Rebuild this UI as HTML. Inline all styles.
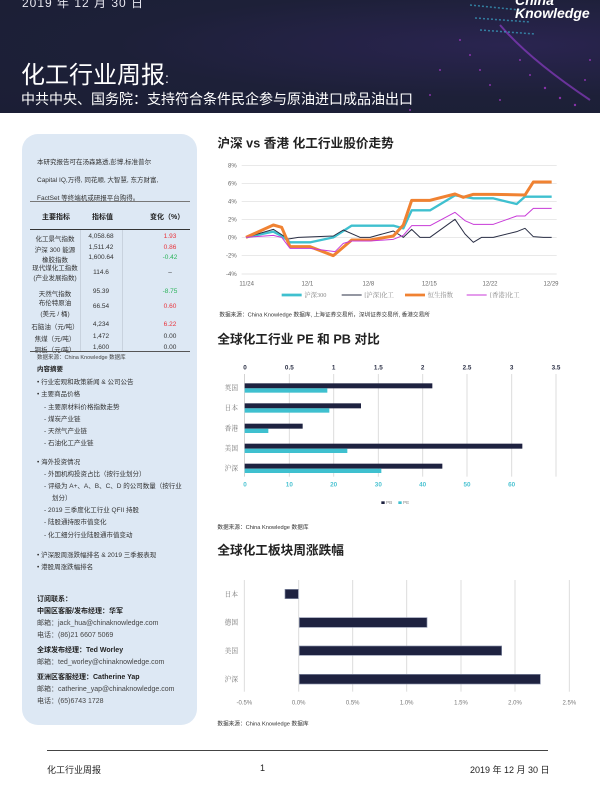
<!DOCTYPE html>
<html><head><meta charset="utf-8"><style>
*{margin:0;padding:0;box-sizing:border-box}
body{width:600px;height:800px;background:#fff;position:relative;overflow:hidden;font-family:"Liberation Sans","Noto Sans CJK SC",sans-serif;color:#222}
.a{position:absolute;white-space:nowrap}
.hdr{position:absolute;left:0;top:0;width:600px;height:113px;background:radial-gradient(ellipse at 85% 40%,#2a2450 0%,#1d2038 55%,#1b1e35 100%)}
.side{position:absolute;left:22px;top:134px;width:175px;height:591px;background:#dde8f4;border-radius:16px}
.s7{font-size:6.5px;color:#333}
.t7{font-size:6.5px;color:#333;text-align:center}
.red{color:#e8333b}.grn{color:#2bb35a}
</style></head><body>
<div class="hdr">
<svg width="600" height="113" style="position:absolute;left:0;top:0">
<g fill="#b43ad8" opacity="0.7">
<circle cx="460" cy="40" r="1"/><circle cx="470" cy="55" r="1"/><circle cx="480" cy="70" r="1"/><circle cx="490" cy="85" r="1"/><circle cx="500" cy="100" r="1"/><circle cx="520" cy="60" r="1"/><circle cx="530" cy="75" r="1"/><circle cx="545" cy="88" r="1.2"/><circle cx="560" cy="98" r="1.2"/><circle cx="575" cy="105" r="1.2"/><circle cx="585" cy="80" r="1"/><circle cx="590" cy="60" r="1"/><circle cx="440" cy="70" r="1"/><circle cx="430" cy="95" r="1"/><circle cx="410" cy="110" r="1"/>
</g>
<path d="M500 25 Q530 60 590 100" stroke="#9b3fd8" stroke-width="2" fill="none" opacity="0.6"/>
<path d="M470 5 L520 10 M475 18 L530 22 M480 30 L535 34" stroke="#3aa6c8" stroke-width="1.5" stroke-dasharray="2 2" opacity="0.7"/>
</svg>
<div class="a" style="left:22px;top:-6px;font-size:12px;color:#e8e8f0;letter-spacing:1px">2019 年 12 月 30 日</div>
<div class="a" style="left:515px;top:-6px;font-size:14px;font-weight:bold;font-style:italic;color:#fff;line-height:13px">China<br>Knowledge</div>
<div class="a" style="left:21px;top:55px;font-size:24px;color:#fff">化工行业周报<span style="font-size:14px">:</span></div>
<div class="a" style="left:21px;top:89px;font-size:14px;color:#fff">中共中央、国务院：支持符合条件民企参与原油进口成品油出口</div>
</div>

<div class="side"></div>
<div class="a s7" style="left:37px;top:156px">本研究报告可在汤森路透,彭博,标准普尔</div>
<div class="a s7" style="left:37px;top:174px">Capital IQ,万得, 同花顺, 大智慧, 东方财富,</div>
<div class="a s7" style="left:37px;top:192px">FactSet 等终端机或研报平台购得。</div>
<div class="a" style="left:30px;top:201px;width:160px;border-top:1.5px solid #777"></div>
<div class="a" style="left:42px;top:212px;font-size:7px;font-weight:bold">主要指标</div>
<div class="a" style="left:92px;top:212px;font-size:7px;font-weight:bold">指标值</div>
<div class="a" style="left:150px;top:212px;font-size:7px;font-weight:bold">变化（%）</div>
<div class="a" style="left:30px;top:229px;width:160px;border-top:1.5px solid #333"></div>
<div class="a" style="left:80px;top:230px;height:121px;border-left:1px solid #c8d2de"></div>
<div class="a" style="left:122px;top:230px;height:121px;border-left:1px solid #c8d2de"></div>
<div class="a t7" style="left:30px;top:233px;width:50px">化工景气指数</div><div class="a t7" style="left:80px;top:233px;width:42px">4,058.68</div><div class="a t7 red" style="left:150px;top:233px;width:40px">1.93</div>
<div class="a t7" style="left:30px;top:244px;width:50px">沪深 300 能源</div><div class="a t7" style="left:80px;top:244px;width:42px">1,511.42</div><div class="a t7 red" style="left:150px;top:244px;width:40px">0.86</div>
<div class="a t7" style="left:30px;top:254px;width:50px">橡胶指数</div><div class="a t7" style="left:80px;top:254px;width:42px">1,600.64</div><div class="a t7 grn" style="left:150px;top:254px;width:40px">-0.42</div>
<div class="a t7" style="left:30px;top:264px;width:50px;line-height:10px;white-space:normal">现代煤化工指数<br>(产业发展指数)</div><div class="a t7" style="left:80px;top:269px;width:42px">114.6</div><div class="a t7" style="left:150px;top:269px;width:40px">–</div>
<div class="a t7" style="left:30px;top:288px;width:50px">天然气指数</div><div class="a t7" style="left:80px;top:288px;width:42px">95.39</div><div class="a t7 grn" style="left:150px;top:288px;width:40px">-8.75</div>
<div class="a t7" style="left:30px;top:298px;width:50px;line-height:11px;white-space:normal">布伦特原油<br>(美元 / 桶)</div><div class="a t7" style="left:80px;top:303px;width:42px">66.54</div><div class="a t7 red" style="left:150px;top:303px;width:40px">0.60</div>
<div class="a t7" style="left:30px;top:321px;width:50px">石脑油（元/吨）</div><div class="a t7" style="left:80px;top:321px;width:42px">4,234</div><div class="a t7 red" style="left:150px;top:321px;width:40px">6.22</div>
<div class="a t7" style="left:30px;top:333px;width:50px">焦煤（元/吨）</div><div class="a t7" style="left:80px;top:333px;width:42px">1,472</div><div class="a t7" style="left:150px;top:333px;width:40px">0.00</div>
<div class="a t7" style="left:30px;top:344px;width:50px">铜板（元/吨）</div><div class="a t7" style="left:80px;top:344px;width:42px">1,600</div><div class="a t7" style="left:150px;top:344px;width:40px">0.00</div>
<div class="a" style="left:30px;top:351px;width:160px;border-top:1.5px solid #555"></div>
<div class="a" style="left:37px;top:353px;font-size:5.5px;color:#444">数据来源：China Knowledge 数据库</div>
<div class="a" style="left:37px;top:363px;font-size:6.5px;font-weight:bold">内容摘要</div>
<div class="a s7" style="left:37px;top:376px">• 行业宏观和政策新闻 &amp; 公司公告</div>
<div class="a s7" style="left:37px;top:388px">• 主要商品价格</div>
<div class="a s7" style="left:44px;top:401px">- 主要原材料价格指数走势</div>
<div class="a s7" style="left:44px;top:413px">- 煤炭产业链</div>
<div class="a s7" style="left:44px;top:425px">- 天然气产业链</div>
<div class="a s7" style="left:44px;top:437px">- 石油化工产业链</div>
<div class="a s7" style="left:37px;top:456px">• 海外投资情况</div>
<div class="a s7" style="left:44px;top:468px">- 外国机构投资占比（按行业划分）</div>
<div class="a s7" style="left:44px;top:480px">- 评级为 A+、A、B、C、D 的公司数量（按行业</div>
<div class="a s7" style="left:52px;top:492px">划分）</div>
<div class="a s7" style="left:44px;top:504px">- 2019 三季度化工行业 QFII 持股</div>
<div class="a s7" style="left:44px;top:516px">- 陆股通持股市值变化</div>
<div class="a s7" style="left:44px;top:529px">- 化工细分行业陆股通市值变动</div>
<div class="a s7" style="left:37px;top:549px">• 沪深股周涨跌幅排名 &amp; 2019 三季报表现</div>
<div class="a s7" style="left:37px;top:561px">• 港股周涨跌幅排名</div>
<div class="a" style="left:37px;top:594px;font-size:7px;font-weight:bold">订阅联系：</div>
<div class="a" style="left:37px;top:606px;font-size:7px;font-weight:bold">中国区客服/发布经理：华军</div>
<div class="a" style="left:37px;top:618px;font-size:7px;color:#444">邮箱：jack_hua@chinaknowledge.com</div>
<div class="a" style="left:37px;top:630px;font-size:7px;color:#444">电话：(86)21 6607 5069</div>
<div class="a" style="left:37px;top:645px;font-size:7px;font-weight:bold">全球发布经理：Ted Worley</div>
<div class="a" style="left:37px;top:657px;font-size:7px;color:#444">邮箱：ted_worley@chinaknowledge.com</div>
<div class="a" style="left:37px;top:672px;font-size:7px;font-weight:bold">亚洲区客服经理：Catherine Yap</div>
<div class="a" style="left:37px;top:684px;font-size:7px;color:#444">邮箱：catherine_yap@chinaknowledge.com</div>
<div class="a" style="left:37px;top:696px;font-size:7px;color:#444">电话：(65)6743 1728</div>

<!-- Chart 1 -->
<svg class="a" style="left:210px;top:130px" width="370" height="200" viewBox="0 0 1110 600" font-family="Liberation Sans, Noto Sans CJK SC, sans-serif">
<text x="22" y="52" font-size="38" font-weight="bold" fill="#222">沪深 vs 香港 化工行业股价走势</text>
<g stroke="#dcdcdc" stroke-width="2">
<line x1="95" y1="107" x2="1040" y2="107"/><line x1="95" y1="161" x2="1040" y2="161"/><line x1="95" y1="215" x2="1040" y2="215"/><line x1="95" y1="269" x2="1040" y2="269"/><line x1="95" y1="323" x2="1040" y2="323"/><line x1="95" y1="377" x2="1040" y2="377"/><line x1="95" y1="432" x2="1040" y2="432"/>
</g>
<g font-size="18" fill="#666" text-anchor="end">
<text x="80" y="113">8%</text><text x="80" y="167">6%</text><text x="80" y="221">4%</text><text x="80" y="275">2%</text><text x="80" y="329">0%</text><text x="80" y="383">-2%</text><text x="80" y="438">-4%</text>
</g>
<g font-size="18" fill="#666" text-anchor="middle">
<text x="110" y="466">11/24</text><text x="292" y="466">12/1</text><text x="475" y="466">12/8</text><text x="658" y="466">12/15</text><text x="840" y="466">12/22</text><text x="1023" y="466">12/29</text>
</g>
<g fill="none" stroke-linejoin="round">
<polyline stroke="#3fc0cf" stroke-width="7" points="108,322 190,305 215,318 240,337 300,337 370,322 425,287 550,287 580,295 605,241 660,241 735,196 790,205 850,205 920,222 945,200 1025,200"/>
<polyline stroke="#2a2f45" stroke-width="3" points="108,322 190,298 235,327 265,322 370,318 400,300 450,322 480,322 550,303 580,322 605,298 630,322 660,322 735,268 765,312 790,337 815,322 850,322 920,305 945,295 970,320 1000,322 1025,322"/>
<polyline stroke="#f08232" stroke-width="9" points="108,322 190,285 215,292 240,350 300,350 370,377 390,360 425,330 480,330 550,318 580,285 605,211 660,211 735,192 760,202 790,193 850,193 945,195 970,156 1025,156"/>
<polyline stroke="#c83ad8" stroke-width="3" points="108,322 190,316 215,322 240,355 300,355 375,365 400,340 425,333 480,333 550,328 580,316 605,287 660,287 735,247 765,272 790,283 850,283 920,258 945,258 970,235 1025,235"/>
</g>
<line x1="215" y1="495" x2="275" y2="495" stroke="#3fc0cf" stroke-width="8"/>
<line x1="395" y1="495" x2="455" y2="495" stroke="#2a2f45" stroke-width="3"/>
<line x1="585" y1="495" x2="645" y2="495" stroke="#f08232" stroke-width="8"/>
<line x1="770" y1="495" x2="830" y2="495" stroke="#c83ad8" stroke-width="3"/>
<g font-size="19" fill="#888" font-family="Liberation Serif, Noto Serif CJK SC, serif">
<text x="283" y="501">沪深300</text><text x="463" y="501">[沪深]化工</text><text x="653" y="501">恒生指数</text><text x="840" y="501">[香港]化工</text>
</g>
<text x="28" y="559" font-size="17" fill="#333">数据来源：China Knowledge 数据库, 上海证券交易所，深圳证券交易所, 香港交易所</text>
</svg>

<!-- Chart 2 -->
<svg class="a" style="left:210px;top:330px" width="370" height="200" viewBox="0 0 1110 600" font-family="Liberation Sans, Noto Sans CJK SC, sans-serif">
<text x="22" y="40" font-size="38" font-weight="bold" fill="#222">全球化工行业 PE 和 PB 对比</text>
<g stroke="#dcdcdc" stroke-width="3">
<line x1="238" y1="132" x2="238" y2="440"/><line x1="371" y1="132" x2="371" y2="440"/><line x1="505" y1="132" x2="505" y2="440"/><line x1="638" y1="132" x2="638" y2="440"/><line x1="771" y1="132" x2="771" y2="440"/><line x1="905" y1="132" x2="905" y2="440"/><line x1="1038" y1="132" x2="1038" y2="440"/>
</g>
<line x1="104" y1="132" x2="104" y2="440" stroke="#bbb" stroke-width="2"/>
<g font-size="19" fill="#2a2f45" font-weight="bold" text-anchor="middle">
<text x="105" y="119">0</text><text x="238" y="119">0.5</text><text x="371" y="119">1</text><text x="505" y="119">1.5</text><text x="638" y="119">2</text><text x="771" y="119">2.5</text><text x="905" y="119">3</text><text x="1038" y="119">3.5</text>
</g>
<g font-size="19" fill="#4cc3d2" font-weight="bold" text-anchor="middle">
<text x="105" y="470">0</text><text x="238" y="470">10</text><text x="371" y="470">20</text><text x="505" y="470">30</text><text x="638" y="470">40</text><text x="771" y="470">50</text><text x="905" y="470">60</text>
</g>
<g fill="#1e2240">
<rect x="104" y="160" width="563" height="15"/><rect x="104" y="220" width="349" height="15"/><rect x="104" y="281" width="174" height="15"/><rect x="104" y="341" width="833" height="15"/><rect x="104" y="401" width="593" height="15"/>
</g>
<g fill="#3fc0cf">
<rect x="104" y="175" width="248" height="13"/><rect x="104" y="235" width="254" height="13"/><rect x="104" y="296" width="71" height="13"/><rect x="104" y="356" width="308" height="13"/><rect x="104" y="416" width="410" height="13"/>
</g>
<g font-size="20" fill="#777" text-anchor="middle" font-family="Liberation Serif, Noto Serif CJK SC, serif">
<text x="64" y="180">英国</text><text x="64" y="240">日本</text><text x="64" y="301">香港</text><text x="64" y="361">美国</text><text x="64" y="421">沪深</text>
</g>
<rect x="514" y="514" width="10" height="8" fill="#1e2240"/><text x="528" y="522" font-size="14" fill="#888">PB</text>
<rect x="565" y="514" width="10" height="8" fill="#3fc0cf"/><text x="579" y="522" font-size="14" fill="#888">PE</text>
<text x="22" y="597" font-size="17" fill="#333">数据来源：China Knowledge 数据库</text>
</svg>

<!-- Chart 3 -->
<svg class="a" style="left:210px;top:535px" width="370" height="200" viewBox="0 0 1110 600" font-family="Liberation Sans, Noto Sans CJK SC, sans-serif">
<text x="22" y="58" font-size="38" font-weight="bold" fill="#222">全球化工板块周涨跌幅</text>
<g stroke="#dcdcdc" stroke-width="3">
<line x1="103" y1="135" x2="103" y2="470"/><line x1="266" y1="135" x2="266" y2="470"/><line x1="428" y1="135" x2="428" y2="470"/><line x1="590" y1="135" x2="590" y2="470"/><line x1="753" y1="135" x2="753" y2="470"/><line x1="915" y1="135" x2="915" y2="470"/><line x1="1078" y1="135" x2="1078" y2="470"/>
</g>
<g fill="#1e2240" stroke="#8890a8" stroke-width="2">
<rect x="225" y="163" width="40" height="28"/><rect x="268" y="248" width="383" height="29"/><rect x="268" y="333" width="607" height="28"/><rect x="268" y="418" width="723" height="29"/>
</g>
<g font-size="20" fill="#777" text-anchor="middle" font-family="Liberation Serif, Noto Serif CJK SC, serif">
<text x="64" y="184">日本</text><text x="64" y="269">德国</text><text x="64" y="354">美国</text><text x="64" y="439">沪深</text>
</g>
<g font-size="18" fill="#777" text-anchor="middle">
<text x="103" y="509">-0.5%</text><text x="266" y="509">0.0%</text><text x="428" y="509">0.5%</text><text x="590" y="509">1.0%</text><text x="753" y="509">1.5%</text><text x="915" y="509">2.0%</text><text x="1078" y="509">2.5%</text>
</g>
<text x="22" y="572" font-size="17" fill="#333">数据来源：China Knowledge 数据库</text>
</svg>

<div class="a" style="left:47px;top:750px;width:501px;border-top:1px solid #444"></div>
<div class="a" style="left:47px;top:763px;font-size:9px">化工行业周报</div>
<div class="a" style="left:260px;top:763px;font-size:9px">1</div>
<div class="a" style="left:470px;top:763px;width:75px;text-align:right;font-size:9px">2019 年 12 月 30 日</div>
</body></html>
